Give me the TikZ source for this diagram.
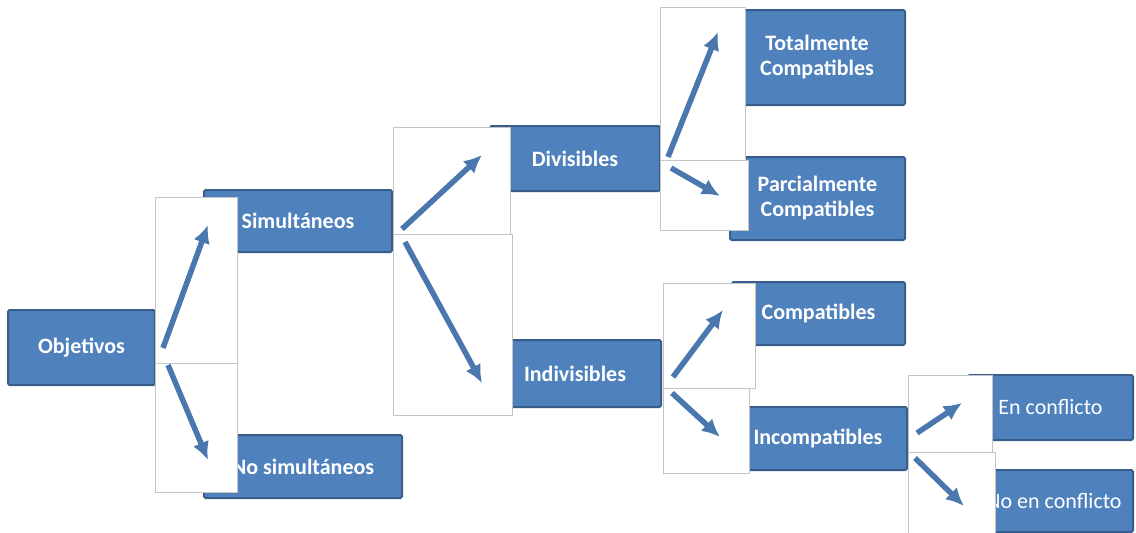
\documentclass[tikz,border=0pt]{standalone}
\usepackage{fontspec}
\setmainfont{Carlito}
\usetikzlibrary{arrows.meta,positioning}
\definecolor{objFill}{HTML}{4F81BD}
\definecolor{objEdge}{HTML}{385D8A}
\definecolor{objPanelEdge}{HTML}{C4C4C4}
\tikzset{
  objBox/.style={
    draw=objEdge,
    fill=objFill,
    line width=2pt,
    rounded corners=1.5pt,
    text=white,
    align=center,
    inner sep=2pt,
    font=\fontsize{22}{25}\selectfont\bfseries
  },
  objBoxPlain/.style={
    objBox,
    font=\fontsize{22}{25}\selectfont
  },
  objPanel/.style={draw=objPanelEdge, fill=white, line width=0.8pt},
  objArrow/.style={
    -{Latex[length=18pt,width=17pt]},
    line width=5.5pt,
    draw=objFill!92!black
  }
}

\begin{document}
\begin{tikzpicture}[x=1pt, y=-1pt]
  \useasboundingbox (0,0) rectangle (1136,533);

  % tree of objectives, left to right
  \node[objBox, minimum width=147pt, minimum height=75pt] (objetivos) at (81.5,347.5) {Objetivos};
  \node[objBox, minimum width=188pt, minimum height=62pt] (simult) at (298,221) {Simultáneos};
  \node[objBox, minimum width=198pt, minimum height=63pt] (noSimult) at (303,466.5) {No simultáneos};
  \node[objBox, minimum width=170pt, minimum height=65pt] (divis) at (575,158.5) {Divisibles};
  \node[objBox, minimum width=172pt, minimum height=67pt] (indivis) at (575,373.5) {Indivisibles};
  \node[objBox, minimum width=176pt, minimum height=95pt] (totalComp) at (817,57.5) {Totalmente\\Compatibles};
  \node[objBox, minimum width=175pt, minimum height=83pt] (parcialComp) at (817.5,198.5) {Parcialmente\\Compatibles};
  \node[objBox, minimum width=173pt, minimum height=63pt] (comp) at (818.5,313.5) {Compatibles};
  \node[objBox, minimum width=178pt, minimum height=63pt] (incomp) at (818,438.5) {Incompatibles};
  \node[objBoxPlain, minimum width=165pt, minimum height=65pt] (conflicto) at (1050.5,407.5) {En conflicto};
  \node[objBoxPlain, minimum width=158pt, minimum height=62pt] (noConflicto) at (1054,501) {No en conflicto};

  % white panels behind the arrows
  \foreach \x/\y/\X/\Y in {155/197/237/363, 155/363/237/492,
                           393/127/510/234, 393/234/512/415,
                           660/7/745/160, 660/160/748/230,
                           663/283/755/388, 663/388/749/473,
                           908/375/992/452, 908/452/995/533}
    \draw[objPanel] (\x,\y) rectangle (\X,\Y);

  \coordinate (simultFrom) at (163,348);
  \coordinate (simultTo) at (208,225);
  \coordinate (noSimultFrom) at (168,365);
  \coordinate (noSimultTo) at (208,460);
  \coordinate (divisFrom) at (402,229);
  \coordinate (divisTo) at (482,155);
  \coordinate (indivisFrom) at (405,242);
  \coordinate (indivisTo) at (482,383);
  \coordinate (totalFrom) at (668,157);
  \coordinate (totalTo) at (718,32);
  \coordinate (parcialFrom) at (671,168);
  \coordinate (parcialTo) at (720,196);
  \coordinate (compFrom) at (673,377);
  \coordinate (compTo) at (723,310);
  \coordinate (incompFrom) at (672,393);
  \coordinate (incompTo) at (720,437);
  \coordinate (conflictoFrom) at (917,433);
  \coordinate (conflictoTo) at (962,403);
  \coordinate (noConflictoFrom) at (915,458);
  \coordinate (noConflictoTo) at (964,506);

  \foreach \a in {simult,noSimult,divis,indivis,total,parcial,comp,incomp,conflicto,noConflicto}
    \draw[objArrow] (\a From) -- (\a To);
\end{tikzpicture}
\end{document}
